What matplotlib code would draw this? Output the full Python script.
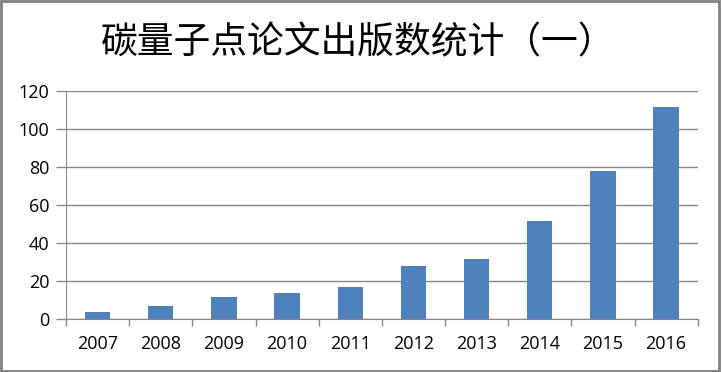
import matplotlib
matplotlib.use('Agg')
import matplotlib.pyplot as plt
from matplotlib.patches import Rectangle

# 数据
years = ['2007', '2008', '2009', '2010', '2011', '2012', '2013', '2014', '2015', '2016']
counts = [4, 7, 12, 14, 17, 28, 32, 52, 78, 112]
yticks = [0, 20, 40, 60, 80, 100, 120]

plt.rcParams['font.family'] = ['Noto Sans CJK SC', 'DejaVu Sans']

fig = plt.figure(figsize=(7.22, 3.72), dpi=100)
ax = fig.add_axes([66 / 722, 1 - 319.3 / 372, (697.7 - 66) / 722, 228 / 372])

x = range(len(years))
ax.bar(x, counts, width=0.4, color='#4f81bd', zorder=3)

ax.set_xlim(-0.5, len(years) - 0.5)
ax.set_ylim(0, 120)
ax.set_yticks(yticks)
ax.set_yticklabels([str(v) for v in yticks], fontsize=13, family='Open Sans')
ax.set_xticks(list(x))
ax.set_xticklabels(years, fontsize=13, family='Open Sans')
# 类别之间的刻度线
ax.set_xticks([i - 0.5 for i in range(len(years) + 1)], minor=True)
ax.tick_params(axis='x', which='major', length=0, pad=11)
ax.tick_params(axis='x', which='minor', length=5, color='#868686', width=1)
ax.tick_params(axis='y', length=7, color='#868686', width=1, pad=5)

ax.grid(axis='y', color='#868686', linewidth=1, zorder=0)
for s in ['top', 'right']:
    ax.spines[s].set_visible(False)
ax.spines['left'].set_color('#868686')
ax.spines['bottom'].set_color('#868686')

fig.text(358 / 722, 1 - 43 / 372, '碳量子点论文出版数统计（一）', fontsize=26.5,
         ha='center', va='center')

# 外框
fig.patches.append(Rectangle((0.002, 0.003), 0.994, 0.993, transform=fig.transFigure,
                             fill=False, edgecolor='#808080', linewidth=2))

fig.savefig('out.png', dpi=100)
